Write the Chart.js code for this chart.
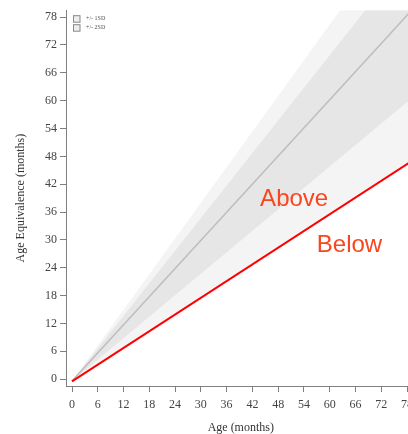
<!DOCTYPE html>
<html>
<head>
<meta charset="utf-8">
<script src="https://cdn.jsdelivr.net/npm/chart.js@4/dist/chart.umd.min.js"></script>
<style>
  html, body { margin: 0; padding: 0; background: #fff; overflow: hidden; }
  canvas { display: block; }
</style>
</head>
<body>
<canvas id="age-chart" width="419" height="434"></canvas>
<script>
// chart values
const ages = [0, 80];
const meanLine = [-0.4, 80.4];
const plus1SD = [-0.4, 93.2];
const minus1SD = [-0.4, 61.2];
const plus2SD = [-0.4, 102];
const minus2SD = [-0.5, 47.5];
const cutoffLine = [-0.5, 47.5];
const bandLabels = ['+/- 1SD', '+/- 2SD'];
const regionLabels = ['Above', 'Below'];

const pts = arr => ages.map((a, i) => ({ x: a, y: arr[i] }));

// where the Above / Below words sit (data coords)
const regionSpots = [{ x: 43.8, y: 37.4 }, { x: 57, y: 27.3 }];

const serif = '"Liberation Serif", "DejaVu Serif", serif';

const textPlugin = {
    id: 'textPlugin',
    afterDatasetsDraw(chart) {
        const ctx = chart.ctx;
        const xs = chart.scales.x, ys = chart.scales.y;
        ctx.save();
        // Above / Below
        ctx.fillStyle = '#f9461e';
        ctx.font = '24px "Liberation Sans", Arial, sans-serif';
        ctx.textAlign = 'left';
        ctx.textBaseline = 'alphabetic';
        regionLabels.forEach((t, i) => {
            ctx.fillText(t, xs.getPixelForValue(regionSpots[i].x), ys.getPixelForValue(regionSpots[i].y));
        });
        // small legend, top left of the plot
        const left = chart.chartArea.left + 7, top = chart.chartArea.top + 5;
        ctx.font = '6px ' + serif;
        ctx.textBaseline = 'middle';
        bandLabels.forEach((t, i) => {
            const y = top + i * 9;
            ctx.fillStyle = '#eeeeee';
            ctx.fillRect(left, y, 7, 7);
            ctx.strokeStyle = '#888';
            ctx.lineWidth = 1;
            ctx.strokeRect(left + 0.5, y + 0.5, 6.5, 6.5);
            ctx.fillStyle = '#555';
            ctx.fillText(t, left + 13, y + 3.5);
        });
        ctx.restore();
    }
};

var ctx = document.getElementById('age-chart').getContext('2d');
var ageChart = new Chart(ctx, {
    type: 'line',
    data: {
        datasets: [
            { label: 'cutoff', data: pts(cutoffLine), borderColor: '#ff0000', borderWidth: 2, pointRadius: 0, fill: false, order: 0 },
            { label: 'mean', data: pts(meanLine), borderColor: '#bdbdbd', borderWidth: 1.5, pointRadius: 0, fill: false, order: 1 },
            { label: bandLabels[0], data: pts(plus1SD), borderWidth: 0, borderColor: 'rgba(0,0,0,0)', backgroundColor: '#e6e6e6', pointRadius: 0, fill: 3, order: 2 },
            { label: 'minus1SD', data: pts(minus1SD), borderWidth: 0, borderColor: 'rgba(0,0,0,0)', pointRadius: 0, fill: false, order: 3 },
            { label: bandLabels[1], data: pts(plus2SD), borderWidth: 0, borderColor: 'rgba(0,0,0,0)', backgroundColor: '#f4f4f4', pointRadius: 0, fill: 5, order: 4 },
            { label: 'minus2SD', data: pts(minus2SD), borderWidth: 0, borderColor: 'rgba(0,0,0,0)', pointRadius: 0, fill: false, order: 5 }
        ]
    },
    options: {
        responsive: false,
        animation: false,
        devicePixelRatio: 1,
        layout: { padding: { top: 8, left: 0, right: 0, bottom: 0 } },
        plugins: { legend: { display: false }, tooltip: { enabled: false } },
        scales: {
            x: {
                type: 'linear',
                min: -1.4,
                max: 80,
                afterFit: s => { s.height = 48; },
                grid: { drawOnChartArea: false, tickLength: 6, color: '#808080' },
                border: { color: '#808080' },
                ticks: { stepSize: 6, includeBounds: false, color: '#444', padding: 6, maxRotation: 0, autoSkip: false, font: { family: serif, size: 12 } },
                title: { display: true, text: 'Age (months)', color: '#333', padding: { top: 0, bottom: -1 }, font: { family: serif, size: 12 } }
            },
            y: {
                min: -1.5,
                max: 79.5,
                afterFit: s => { s.width = 66; },
                grid: { drawOnChartArea: false, tickLength: 6, color: '#808080' },
                border: { color: '#808080' },
                ticks: { stepSize: 6, includeBounds: false, color: '#444', padding: 3, autoSkip: false, font: { family: serif, size: 12 } },
                title: { display: true, text: 'Age Equivalence (months)', color: '#333', padding: { top: 14, bottom: 0 }, font: { family: serif, size: 12 } }
            }
        }
    },
    plugins: [textPlugin]
});
</script>
</body>
</html>
